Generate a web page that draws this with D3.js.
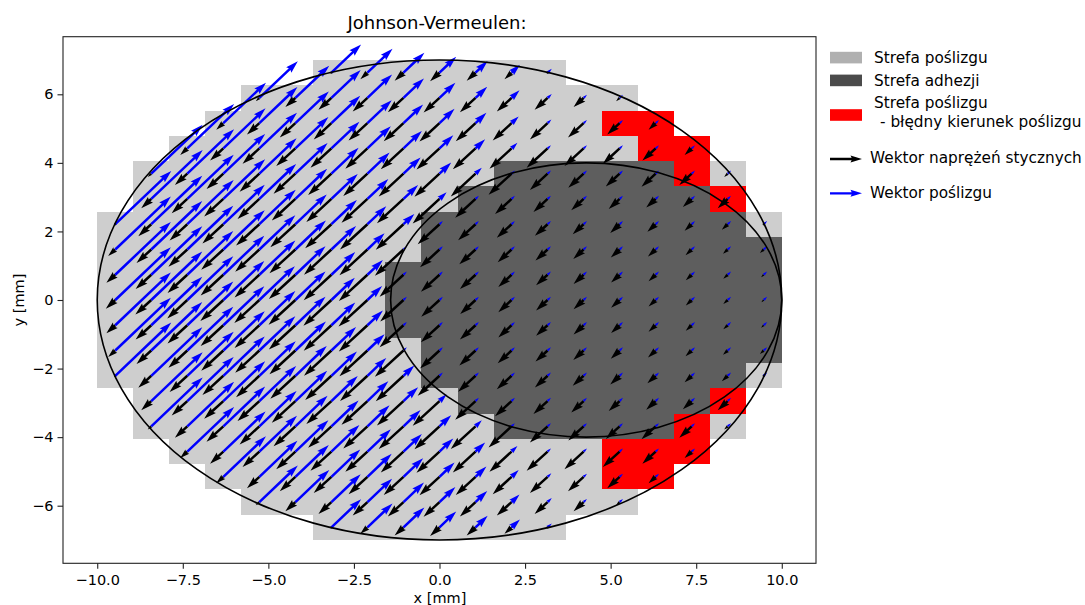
<!DOCTYPE html>
<html><head><meta charset="utf-8">
<script src="https://cdn.jsdelivr.net/npm/d3@7"></script>
<style>
body{margin:0;background:#fff}
text{font-family:"DejaVu Sans",sans-serif;fill:#000}
</style>
</head><body>
<svg id="chart" width="1085" height="605"></svg>
<script>
// ---- data ----
const xEdges = [-10,-8.947,-7.895,-6.842,-5.789,-4.737,-3.684,-2.632,-1.579,-0.526,0.526,1.579,2.632,3.684,4.737,5.789,6.842,7.895,8.947,10];
const yEdges = [7,6.263,5.526,4.789,4.053,3.316,2.579,1.842,1.105,0.368,-0.368,-1.105,-1.842,-2.579,-3.316,-4.053,-4.789,-5.526,-6.263,-7];
const xTicks = [-10,-7.5,-5,-2.5,0,2.5,5,7.5,10];
const yTicks = [-6,-4,-2,0,2,4,6];
// zone per cell, rows top->bottom: '.' none, 's' slip, 'a' adhesion, 'r' slip with wrong direction
const zoneRows = [
  "......sssssss......",
  "....sssssssssss....",
  "...sssssssssssrr...",
  "..sssssssssssssrr..",
  ".ssssssssssaaaaars.",
  ".sssssssssaaaaaaar.",
  "sssssssssaaaaaaaaas",
  "sssssssssaaaaaaaaaa",
  "ssssssssaaaaaaaaaaa",
  "ssssssssaaaaaaaaaaa",
  "ssssssssaaaaaaaaaaa",
  "sssssssssaaaaaaaaaa",
  "sssssssssaaaaaaaaas",
  ".sssssssssaaaaaaar.",
  ".ssssssssssaaaaars.",
  "..ssssssssssssrrr..",
  "...sssssssssssrr...",
  "....sssssssssss....",
  "......sssssss......"
];
// tangential stress magnitude (relative), cells left->right per row
const tauRows = [
  [0.05,0.24,0.30,0.32,0.30,0.24,0.05],
  [0.12,0.34,0.44,0.50,0.53,0.54,0.53,0.50,0.44,0.34,0.12],
  [0.24,0.42,0.53,0.60,0.64,0.67,0.68,0.67,0.64,0.60,0.53,0.42,0.24],
  [0.24,0.45,0.57,0.65,0.71,0.75,0.77,0.78,0.77,0.75,0.71,0.65,0.57,0.45,0.24],
  [0.12,0.42,0.57,0.67,0.74,0.79,0.82,0.84,0.85,0.84,0.78,0.60,0.52,0.47,0.48,0.42,0.12],
  [0.34,0.53,0.65,0.74,0.80,0.85,0.88,0.90,0.91,0.69,0.56,0.48,0.42,0.37,0.32,0.30,0.34],
  [0.05,0.44,0.60,0.71,0.79,0.85,0.89,0.93,0.94,0.74,0.59,0.50,0.43,0.37,0.32,0.28,0.24,0.20,0.05],
  [0.24,0.50,0.64,0.75,0.82,0.88,0.93,0.95,0.97,0.66,0.55,0.47,0.41,0.35,0.30,0.26,0.21,0.16,0.13],
  [0.30,0.53,0.67,0.77,0.84,0.90,0.94,0.97,0.81,0.63,0.53,0.45,0.39,0.34,0.29,0.24,0.20,0.15,0.09],
  [0.32,0.54,0.68,0.78,0.85,0.91,0.95,0.98,0.79,0.62,0.52,0.45,0.39,0.34,0.29,0.24,0.20,0.15,0.08],
  [0.30,0.53,0.67,0.77,0.84,0.90,0.94,0.97,0.81,0.63,0.53,0.45,0.39,0.34,0.29,0.24,0.20,0.15,0.09],
  [0.24,0.50,0.64,0.75,0.82,0.88,0.93,0.95,0.97,0.66,0.55,0.47,0.41,0.35,0.30,0.26,0.21,0.16,0.13],
  [0.05,0.44,0.60,0.71,0.79,0.85,0.89,0.93,0.94,0.74,0.59,0.50,0.43,0.37,0.32,0.28,0.24,0.20,0.05],
  [0.34,0.53,0.65,0.74,0.80,0.85,0.88,0.90,0.91,0.69,0.56,0.48,0.42,0.37,0.32,0.30,0.34],
  [0.12,0.42,0.57,0.67,0.74,0.79,0.82,0.84,0.85,0.84,0.78,0.60,0.52,0.47,0.48,0.42,0.12],
  [0.24,0.45,0.57,0.65,0.71,0.75,0.77,0.78,0.77,0.75,0.71,0.65,0.57,0.45,0.24],
  [0.24,0.42,0.53,0.60,0.64,0.67,0.68,0.67,0.64,0.60,0.53,0.42,0.24],
  [0.12,0.34,0.44,0.50,0.53,0.54,0.53,0.50,0.44,0.34,0.12],
  [0.05,0.24,0.30,0.32,0.30,0.24,0.05]
];
// slip magnitude (relative), cells left->right per row
const slipRows = [
  [7.1,6.0,5.0,4.0,2.9,2.0,1.0],
  [9.2,8.1,7.0,5.9,4.9,3.8,2.8,1.9,1.0,0.8,0.8],
  [10.2,9.1,8.0,6.9,5.8,4.7,3.6,2.6,1.7,0.9,0.8,0.8,0.8],
  [11.2,10.1,9.0,7.9,6.7,5.6,4.4,3.3,2.3,1.4,0.8,0.8,0.8,0.8,0.8],
  [12.3,11.2,10.0,8.9,7.7,6.5,5.3,4.1,2.8,1.5,0.8,0.8,0.8,0.8,0.8,0.8,0.8],
  [12.3,11.1,10.0,8.8,7.6,6.3,5.0,3.5,1.7,0.8,0.8,0.8,0.8,0.8,0.8,0.8,0.8],
  [13.4,12.2,11.1,9.9,8.7,7.5,6.1,4.5,2.6,0.8,0.8,0.8,0.8,0.8,0.8,0.8,0.8,0.8,0.8],
  [13.3,12.2,11.0,9.9,8.6,7.3,5.9,4.1,0.8,0.8,0.8,0.8,0.8,0.8,0.8,0.8,0.8,0.8,0.8],
  [13.3,12.2,11.0,9.8,8.6,7.2,5.7,3.7,0.8,0.8,0.8,0.8,0.8,0.8,0.8,0.8,0.8,0.8,0.8],
  [13.3,12.2,11.0,9.8,8.5,7.2,5.6,3.5,0.8,0.8,0.8,0.8,0.8,0.8,0.8,0.8,0.8,0.8,0.8],
  [13.3,12.2,11.0,9.8,8.6,7.2,5.7,3.7,0.8,0.8,0.8,0.8,0.8,0.8,0.8,0.8,0.8,0.8,0.8],
  [13.3,12.2,11.0,9.9,8.6,7.3,5.9,4.1,0.8,0.8,0.8,0.8,0.8,0.8,0.8,0.8,0.8,0.8,0.8],
  [13.4,12.2,11.1,9.9,8.7,7.5,6.1,4.5,2.6,0.8,0.8,0.8,0.8,0.8,0.8,0.8,0.8,0.8,0.8],
  [12.3,11.1,10.0,8.8,7.6,6.3,5.0,3.5,1.7,0.8,0.8,0.8,0.8,0.8,0.8,0.8,0.8],
  [12.3,11.2,10.0,8.9,7.7,6.5,5.3,4.1,2.8,1.5,0.8,0.8,0.8,0.8,0.8,0.8,0.8],
  [11.2,10.1,9.0,7.9,6.7,5.6,4.4,3.3,2.3,1.4,0.8,0.8,0.8,0.8,0.8],
  [10.2,9.1,8.0,6.9,5.8,4.7,3.6,2.6,1.7,0.9,0.8,0.8,0.8],
  [9.2,8.1,7.0,5.9,4.9,3.8,2.8,1.9,1.0,0.8,0.8],
  [7.1,6.0,5.0,4.0,2.9,2.0,1.0]
];
const tauDirection = [-0.737, -0.676];
const slipDirection = [0.725, 0.688];
const outerEllipse = [0, 0, 10, 7];
const adhesionEllipse = [4.286, 0, 5.714, 4];
const zoneLabels = ["Strefa poślizgu", "Strefa adhezji", "Strefa poślizgu", "- błędny kierunek poślizgu"];
const arrowLabels = ["Wektor naprężeń stycznych", "Wektor poślizgu"];

// ---- drawing ----
const svg = d3.select("#chart");
const x = d3.scaleLinear().domain([-11, 11]).range([63, 816]);
const y = d3.scaleLinear().domain([-7.68, 7.68]).range([563.3, 36.7]);
const tauLen = d3.scaleLinear().domain([0, 1]).range([0, 1.168]);
const slipLen = d3.scaleLinear().domain([0, 1]).range([0, 0.1685]);
const zoneColor = {s: "#cecece", a: "#5e5e5e", r: "#ff0000"};

svg.append("defs").append("clipPath").attr("id", "plotclip")
  .append("rect").attr("x", x(-11)).attr("y", y(7.68)).attr("width", x(11) - x(-11)).attr("height", y(-7.68) - y(7.68));

const cells = [];
zoneRows.forEach((row, j) => {
  let k = 0;
  [...row].forEach((ch, i) => {
    if (ch === ".") return;
    cells.push({
      x0: xEdges[i], x1: xEdges[i + 1], y0: yEdges[j], y1: yEdges[j + 1],
      cx: (xEdges[i] + xEdges[i + 1]) / 2, cy: (yEdges[j] + yEdges[j + 1]) / 2,
      zone: ch, tau: tauRows[j][k], slip: slipRows[j][k]
    });
    k++;
  });
});

const plot = svg.append("g").attr("clip-path", "url(#plotclip)");
plot.append("g").selectAll("rect").data(cells).join("rect")
  .attr("x", d => x(d.x0)).attr("y", d => y(d.y0))
  .attr("width", d => x(d.x1) - x(d.x0)).attr("height", d => y(d.y1) - y(d.y0))
  .attr("fill", d => zoneColor[d.zone]).attr("shape-rendering", "crispEdges");

function quiverPath(x0, y0, x1, y1, w) {
  const dx = x1 - x0, dy = y1 - y0, L = Math.hypot(dx, dy);
  const HL = 5 * w, HAL = 4.5 * w, HW = 3 * w;
  let pts;
  if (L < w) {
    pts = d3.range(6).map(k => [Math.cos(k * Math.PI / 3) * w / 2, Math.sin(k * Math.PI / 3) * w / 2]);
  } else {
    let len = L, s = 1;
    if (L < HL) { s = L / HL; len = HL; }
    const a = w / 2, b = HW / 2;
    pts = [[0, -a], [len - HAL, -a], [len - HL, -b], [len, 0], [len - HL, b], [len - HAL, a], [0, a]]
      .map(p => [p[0] * s, p[1] * s]);
  }
  const c = L > 0 ? dx / L : 1, sn = L > 0 ? dy / L : 0;
  return "M" + pts.map(p => (x0 + p[0] * c - p[1] * sn).toFixed(2) + "," + (y0 + p[0] * sn + p[1] * c).toFixed(2)).join("L") + "Z";
}
const W = 2.5;
plot.append("g").selectAll("path").data(cells).join("path")
  .attr("d", d => quiverPath(x(d.cx), y(d.cy),
    x(d.cx + tauDirection[0] * tauLen(d.tau)), y(d.cy + tauDirection[1] * tauLen(d.tau)), W))
  .attr("fill", "#000");
plot.append("g").selectAll("path").data(cells).join("path")
  .attr("d", d => quiverPath(x(d.cx), y(d.cy),
    x(d.cx + slipDirection[0] * slipLen(d.slip)), y(d.cy + slipDirection[1] * slipLen(d.slip)), W))
  .attr("fill", "#0000ff");

[outerEllipse, adhesionEllipse].forEach(e => {
  plot.append("ellipse")
    .attr("cx", x(e[0])).attr("cy", y(e[1]))
    .attr("rx", x(e[0] + e[2]) - x(e[0])).attr("ry", y(e[1]) - y(e[1] + e[3]))
    .attr("fill", "none").attr("stroke", "#000").attr("stroke-width", 1.6);
});

// axes
const fmtX = d3.format(".1f");
const gx = svg.append("g").attr("transform", `translate(0,${y(-7.68)})`)
  .call(d3.axisBottom(x).tickValues(xTicks).tickFormat(fmtX).tickSize(5.5).tickPadding(5.5));
const gy = svg.append("g").attr("transform", `translate(${x(-11)},0)`)
  .call(d3.axisLeft(y).tickValues(yTicks).tickFormat(d3.format("d")).tickSize(5.5).tickPadding(4));
[gx, gy].forEach(g => {
  g.select(".domain").remove();
  g.selectAll(".tick line").attr("stroke", "#222").attr("stroke-width", 1.1);
  g.selectAll(".tick text").attr("font-size", 14.5).attr("font-family", "DejaVu Sans").attr("fill", "#111");
});
svg.append("rect").attr("x", x(-11)).attr("y", y(7.68))
  .attr("width", x(11) - x(-11)).attr("height", y(-7.68) - y(7.68))
  .attr("fill", "none").attr("stroke", "#222").attr("stroke-width", 1.1);

svg.append("text").attr("x", 437).attr("y", 29).attr("text-anchor", "middle")
  .attr("font-size", 18).text("Johnson-Vermeulen:");
svg.append("text").attr("x", 440).attr("y", 603).attr("text-anchor", "middle")
  .attr("font-size", 14.5).text("x [mm]");
svg.append("text").attr("transform", "translate(24,300) rotate(-90)").attr("text-anchor", "middle")
  .attr("font-size", 14.5).text("y [mm]");

// legend
const leg = svg.append("g");
const patchData = [
  {y: 51.8, c: "#b0b0b0"},
  {y: 74.6, c: "#4b4b4b"},
  {y: 109.2, c: "#ff0000"}
];
leg.selectAll("rect").data(patchData).join("rect")
  .attr("x", 830).attr("y", d => d.y).attr("width", 32).attr("height", 11.6).attr("fill", d => d.c);
const legText = [
  {t: zoneLabels[0], x: 874, y: 62.5},
  {t: zoneLabels[1], x: 874, y: 85.5},
  {t: zoneLabels[2], x: 874, y: 108},
  {t: zoneLabels[3], x: 880, y: 126.6},
  {t: arrowLabels[0], x: 870, y: 163.3},
  {t: arrowLabels[1], x: 870, y: 198}
];
leg.selectAll("text").data(legText).join("text")
  .attr("x", d => d.x).attr("y", d => d.y).attr("font-size", 15.3).text(d => d.t);
leg.append("path").attr("d", quiverPath(830, 159, 862, 159, 2.3)).attr("fill", "#000");
leg.append("path").attr("d", quiverPath(830, 193.3, 862, 193.3, 2.3)).attr("fill", "#0000ff");
</script>
</body></html>
